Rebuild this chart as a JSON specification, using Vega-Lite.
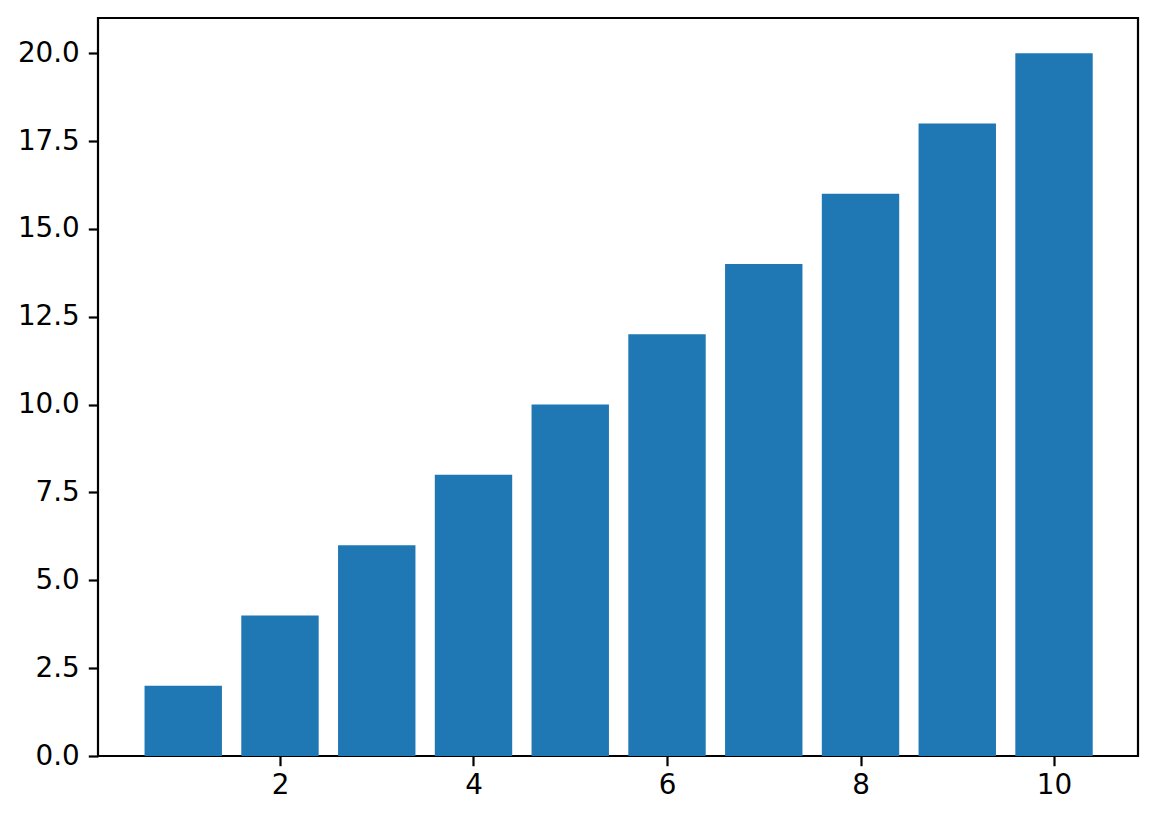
{
  "$schema": "https://vega.github.io/schema/vega-lite/v6.json",
  "width": 1040,
  "height": 738,
  "autosize": {"type": "none"},
  "padding": {"left": 98, "top": 18, "right": 20, "bottom": 66},
  "background": "#ffffff",
  "config": {
    "view": {"stroke": "#000000", "strokeWidth": 2.2},
    "axis": {
      "domain": false,
      "grid": false,
      "ticks": true,
      "tickColor": "#000000",
      "tickWidth": 2.2,
      "tickSize": 9.7,
      "labelFont": "DejaVu Sans",
      "labelFontSize": 27.8,
      "labelColor": "#000000",
      "title": null
    }
  },
  "data": {
    "values": [
      {"x": 1, "y": 2},
      {"x": 2, "y": 4},
      {"x": 3, "y": 6},
      {"x": 4, "y": 8},
      {"x": 5, "y": 10},
      {"x": 6, "y": 12},
      {"x": 7, "y": 14},
      {"x": 8, "y": 16},
      {"x": 9, "y": 18},
      {"x": 10, "y": 20}
    ]
  },
  "mark": {"type": "bar", "width": 77.4, "color": "#1f77b4"},
  "encoding": {
    "x": {
      "field": "x",
      "type": "quantitative",
      "scale": {"domain": [0.119, 10.868], "nice": false, "zero": false, "padding": 0},
      "axis": {"values": [2, 4, 6, 8, 10], "labelPadding": 6, "labelFlush": false}
    },
    "y": {
      "field": "y",
      "type": "quantitative",
      "scale": {"domain": [0, 21], "nice": false},
      "axis": {
        "values": [0, 2.5, 5, 7.5, 10, 12.5, 15, 17.5, 20],
        "format": ".1f",
        "labelPadding": 9,
        "labelFlush": false
      }
    }
  }
}
